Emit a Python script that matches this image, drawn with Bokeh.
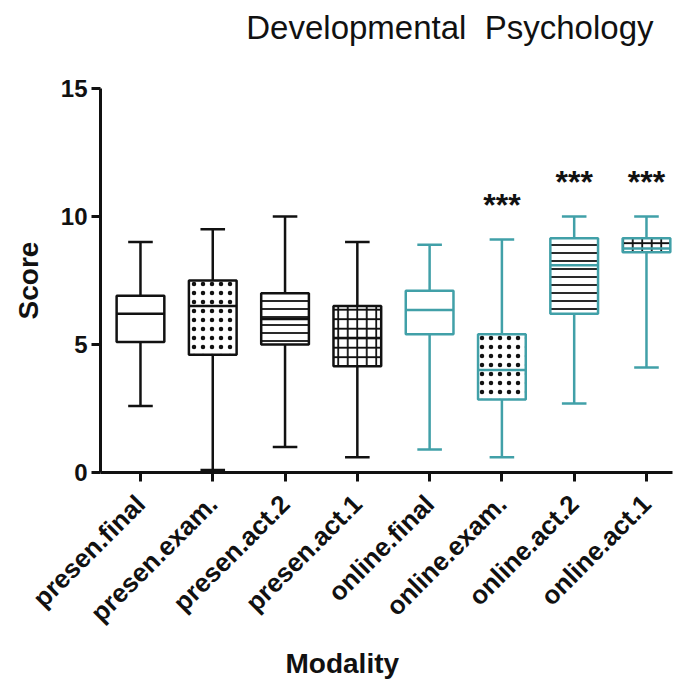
import math
from bokeh.plotting import figure
from bokeh.models import FixedTicker, Range1d, ColumnDataSource, Title
from bokeh.core.properties import value
from bokeh.embed import file_html
from bokeh.resources import INLINE

categories = ["presen.final", "presen.exam.", "presen.act.2", "presen.act.1",
              "online.final", "online.exam.", "online.act.2", "online.act.1"]
whisker_low = [2.6, 0.1, 1.0, 0.6, 0.9, 0.6, 2.7, 4.1]
q1 = [5.1, 4.6, 5.0, 4.15, 5.4, 2.85, 6.2, 8.6]
median = [6.2, 6.5, 6.0, 5.25, 6.35, 4.0, 8.1, 8.75]
q3 = [6.9, 7.5, 7.0, 6.5, 7.1, 5.4, 9.15, 9.15]
whisker_high = [9.0, 9.5, 10.0, 9.0, 8.9, 9.1, 10.0, 10.0]
modality = ["presen"] * 4 + ["online"] * 4
significance = ["", "", "", "", "", "***", "***", "***"]
y_ticks = [0, 5, 10, 15]

BLACK = "#111111"
TEAL = "#41a0a8"
colors = [BLACK if m == "presen" else TEAL for m in modality]
hatch = [" ", ".", "-", "+", " ", ".", "-", "+"]
hatch_scale = [8, 9, 8, 9.5, 8, 9, 8, 9.5]
hatch_weight = [1.8, 0.8, 1.8, 1.8, 1.8, 0.8, 1.8, 1.8]

pos = list(range(1, len(categories) + 1))
BW = 0.66
CW = 0.34

src = ColumnDataSource(dict(
    x=pos, lo=whisker_low, q1=q1, med=median, q3=q3, hi=whisker_high,
    color=colors, hatch=hatch, hscale=hatch_scale, hweight=hatch_weight,
    x0=[p - BW / 2 for p in pos], x1=[p + BW / 2 for p in pos],
    c0=[p - CW / 2 for p in pos], c1=[p + CW / 2 for p in pos],
))

FONT = "Liberation Sans"

p = figure(width=673, height=684, output_backend="svg", toolbar_location=None,
           title=None,
           x_range=Range1d(0.447, 8.36), y_range=Range1d(0, 15),
           min_border_left=100, min_border_right=1, min_border_top=88,
           min_border_bottom=212)
p.outline_line_color = None
p.grid.visible = False
p.background_fill_color = "white"
p.border_fill_color = "white"

# spacer (closest to the frame), then the main title above it
spacer = Title(text="\u00a0", text_font_size="1px", standoff=40, text_color="white")
p.add_layout(spacer, "above")
main_title = Title(text="Developmental\u00a0\u00a0Psychology", align="right", offset=19,
                   standoff=0, text_font=FONT, text_font_size="33px",
                   text_font_style="normal", text_color=BLACK)
p.add_layout(main_title, "above")

# whiskers
p.segment(x0="x", x1="x", y0="q3", y1="hi", source=src, line_color="color", line_width=2.5)
p.segment(x0="x", x1="x", y0="lo", y1="q1", source=src, line_color="color", line_width=2.5)
p.segment(x0="c0", x1="c1", y0="hi", y1="hi", source=src, line_color="color", line_width=2.5)
p.segment(x0="c0", x1="c1", y0="lo", y1="lo", source=src, line_color="color", line_width=2.5)

# boxes
p.quad(left="x0", right="x1", bottom="q1", top="q3", source=src,
       fill_color="white", line_color="color", line_width=2.5,
       hatch_pattern="hatch", hatch_color=BLACK, hatch_scale="hscale", hatch_weight="hweight")
p.segment(x0="x0", x1="x1", y0="med", y1="med", source=src, line_color="color", line_width=2.5)

# significance
sig_src = ColumnDataSource(dict(x=pos, y=[h + 1.35 for h in whisker_high], t=significance))
p.text(x="x", y="y", text="t", source=sig_src, text_align="center", text_baseline="alphabetic",
       text_font=value(FONT), text_font_size="32px", text_font_style="bold", text_color=BLACK)

# axes
for ax in (p.xaxis[0], p.yaxis[0]):
    ax.axis_line_width = 3
    ax.axis_line_color = BLACK
    ax.major_tick_line_width = 3
    ax.major_tick_line_color = BLACK
    ax.major_tick_out = 9
    ax.major_tick_in = 0
    ax.minor_tick_line_color = None
    ax.major_label_text_font = FONT
    ax.major_label_text_font_style = "bold"
    ax.major_label_text_color = BLACK
    ax.axis_label_text_font = FONT
    ax.axis_label_text_font_style = "bold"
    ax.axis_label_text_color = BLACK

p.yaxis.ticker = FixedTicker(ticks=y_ticks)
p.yaxis.major_label_text_font_size = "24px"
p.yaxis.major_label_standoff = 4
p.yaxis.axis_label = "Score"
p.yaxis.axis_label_text_font_size = "28px"
p.yaxis.axis_label_standoff = 14

p.xaxis.ticker = FixedTicker(ticks=pos)
p.xaxis.major_label_overrides = {i: c for i, c in zip(pos, categories)}
p.xaxis.major_label_orientation = math.pi / 4
p.xaxis.major_label_text_font_size = "26px"
p.xaxis.major_label_standoff = 18

xlab = Title(text="Modality", align="left", offset=185, standoff=8, text_font=FONT,
             text_font_size="28px", text_font_style="bold", text_color=BLACK)
p.add_layout(xlab, "below")

open("out.html", "w").write(file_html(p, INLINE))
